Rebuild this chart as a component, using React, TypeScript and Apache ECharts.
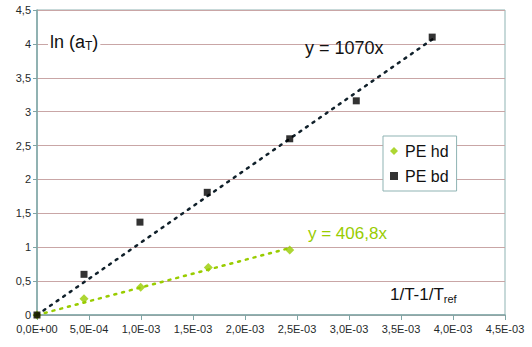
import React, { useEffect, useRef } from "react";
import * as echarts from "echarts";

const X_BD = [0, 0.452e-3, 0.99e-3, 1.637e-3, 2.43e-3, 3.07e-3, 3.8e-3];
const Y_BD = [0, 0.6, 1.37, 1.81, 2.6, 3.16, 4.1];
const X_HD = [0, 0.452e-3, 0.997e-3, 1.647e-3, 2.43e-3];
const Y_HD = [0, 0.24, 0.41, 0.7, 0.96];
const SLOPE_BD = 1070;
const SLOPE_HD = 406.8;
const SERIES_NAMES = ["PE hd", "PE bd"];
const TREND_LABELS = ["y = 406,8x", "y = 1070x"];

const GREEN = "#99cc00";
const FONT = "Liberation Sans, Arial, sans-serif";

function fmtX(v: number): string {
  const s = v.toExponential(1);
  const [m, e] = s.split("e");
  const sign = e[0] === "-" ? "-" : "+";
  const digits = e.replace(/[+-]/, "").padStart(2, "0");
  return m.replace(".", ",") + "E" + sign + digits;
}

export default function App() {
  const ref = useRef<HTMLDivElement>(null);
  useEffect(() => {
    if (!ref.current) return;
    const chart = echarts.init(ref.current, undefined, { renderer: "svg" });
    const bd = X_BD.map((x, i) => [x, Y_BD[i]]);
    const hd = X_HD.map((x, i) => [x, Y_HD[i]]);
    const xmaxBd = Math.max(...X_BD);
    const xmaxHd = Math.max(...X_HD);
    const trendBd = [[0, 0], [xmaxBd, SLOPE_BD * xmaxBd]];
    const trendHd = [[0, 0], [xmaxHd, SLOPE_HD * xmaxHd]];
    chart.setOption({
      animation: false,
      backgroundColor: "#fff",
      textStyle: { fontFamily: FONT },
      grid: {
        left: 37,
        right: 27,
        top: 10,
        bottom: 32,
        show: true,
        borderColor: "#8fb3b3",
        borderWidth: 1,
      },
      xAxis: {
        type: "value",
        min: 0,
        max: 4.5e-3,
        interval: 5e-4,
        axisLine: { show: true, onZero: false, lineStyle: { color: "#7fa5a5", width: 1.5 } },
        axisTick: { show: true, length: 5, lineStyle: { color: "#7fa5a5" } },
        splitLine: { show: false },
        axisLabel: {
          formatter: (v: number) => fmtX(v),
          color: "#1f2a2a",
          fontSize: 11,
          fontFamily: FONT,
          margin: 8,
        },
      },
      yAxis: {
        type: "value",
        min: 0,
        max: 4.5,
        interval: 0.5,
        axisLine: { show: true, lineStyle: { color: "#7fa5a5", width: 1.5 } },
        axisTick: { show: true, length: 4, lineStyle: { color: "#7fa5a5" } },
        splitLine: { show: true, lineStyle: { color: "#c9a6a6", width: 1 } },
        axisLabel: {
          formatter: (v: number) => String(v).replace(".", ","),
          color: "#1f2a2a",
          fontSize: 11,
          fontFamily: FONT,
          margin: 6,
        },
      },
      legend: {
        data: [
          { name: SERIES_NAMES[0], icon: "diamond" },
          { name: SERIES_NAMES[1], icon: "rect" },
        ],
        orient: "vertical",
        left: 383,
        top: 136,
        backgroundColor: "#fff",
        borderColor: "#8fb3b3",
        borderWidth: 1,
        padding: [7, 8, 7, 7],
        itemWidth: 8,
        itemHeight: 8,
        itemGap: 9,
        textStyle: { fontSize: 16, color: "#111", fontFamily: FONT, padding: [0, 0, 0, 2] },
      },
      series: [
        {
          type: "line",
          name: "trend hd",
          data: trendHd,
          symbol: "none",
          lineStyle: { color: GREEN, width: 2.5, type: [2, 6], cap: "round" },
          z: 2,
        },
        {
          type: "line",
          name: "trend bd",
          data: trendBd,
          symbol: "none",
          lineStyle: { color: "#10202a", width: 2.5, type: [2, 6], cap: "round" },
          z: 2,
        },
        {
          type: "scatter",
          name: SERIES_NAMES[0],
          data: hd,
          symbol: "diamond",
          symbolSize: 9,
          itemStyle: { color: GREEN },
          z: 3,
        },
        {
          type: "scatter",
          name: SERIES_NAMES[1],
          data: bd,
          symbol: "rect",
          symbolSize: 7,
          itemStyle: { color: "#000" },
          z: 4,
        },
      ],
      graphic: [
        {
          type: "text",
          left: 48,
          top: 31,
          z: 10,
          style: {
            text: "{a|ln (a}{s|T}{a|)}",
            backgroundColor: "#fff",
            padding: [0, 2, 0, 2],
            rich: {
              a: { fontSize: 18, fontFamily: FONT, fill: "#111", lineHeight: 21 },
              s: { fontSize: 12, fontFamily: FONT, fill: "#111", verticalAlign: "bottom", lineHeight: 15, padding: [6, 0, 0, 0] },
            },
          },
        },
        {
          type: "text",
          left: 305,
          top: 39,
          z: 10,
          style: { text: TREND_LABELS[1], fontSize: 18, fontFamily: FONT, fill: "#111" },
        },
        {
          type: "text",
          left: 308,
          top: 225,
          z: 10,
          style: { text: TREND_LABELS[0], fontSize: 17, fontFamily: FONT, fill: GREEN },
        },
        {
          type: "text",
          left: 387,
          top: 284,
          z: 10,
          style: {
            text: "{a|1/T-1/T}{s|ref}",
            backgroundColor: "#fff",
            padding: [0, 3, 0, 3],
            rich: {
              a: { fontSize: 17, fontFamily: FONT, fill: "#111", lineHeight: 20 },
              s: { fontSize: 11, fontFamily: FONT, fill: "#111", verticalAlign: "bottom", lineHeight: 14, padding: [6, 0, 0, 0] },
            },
          },
        },
      ],
    });
    return () => chart.dispose();
  }, []);
  return (
    <div
      ref={ref}
      style={{ position: "fixed", left: 0, top: 0, width: 532, height: 347, background: "#fff" }}
    />
  );
}
